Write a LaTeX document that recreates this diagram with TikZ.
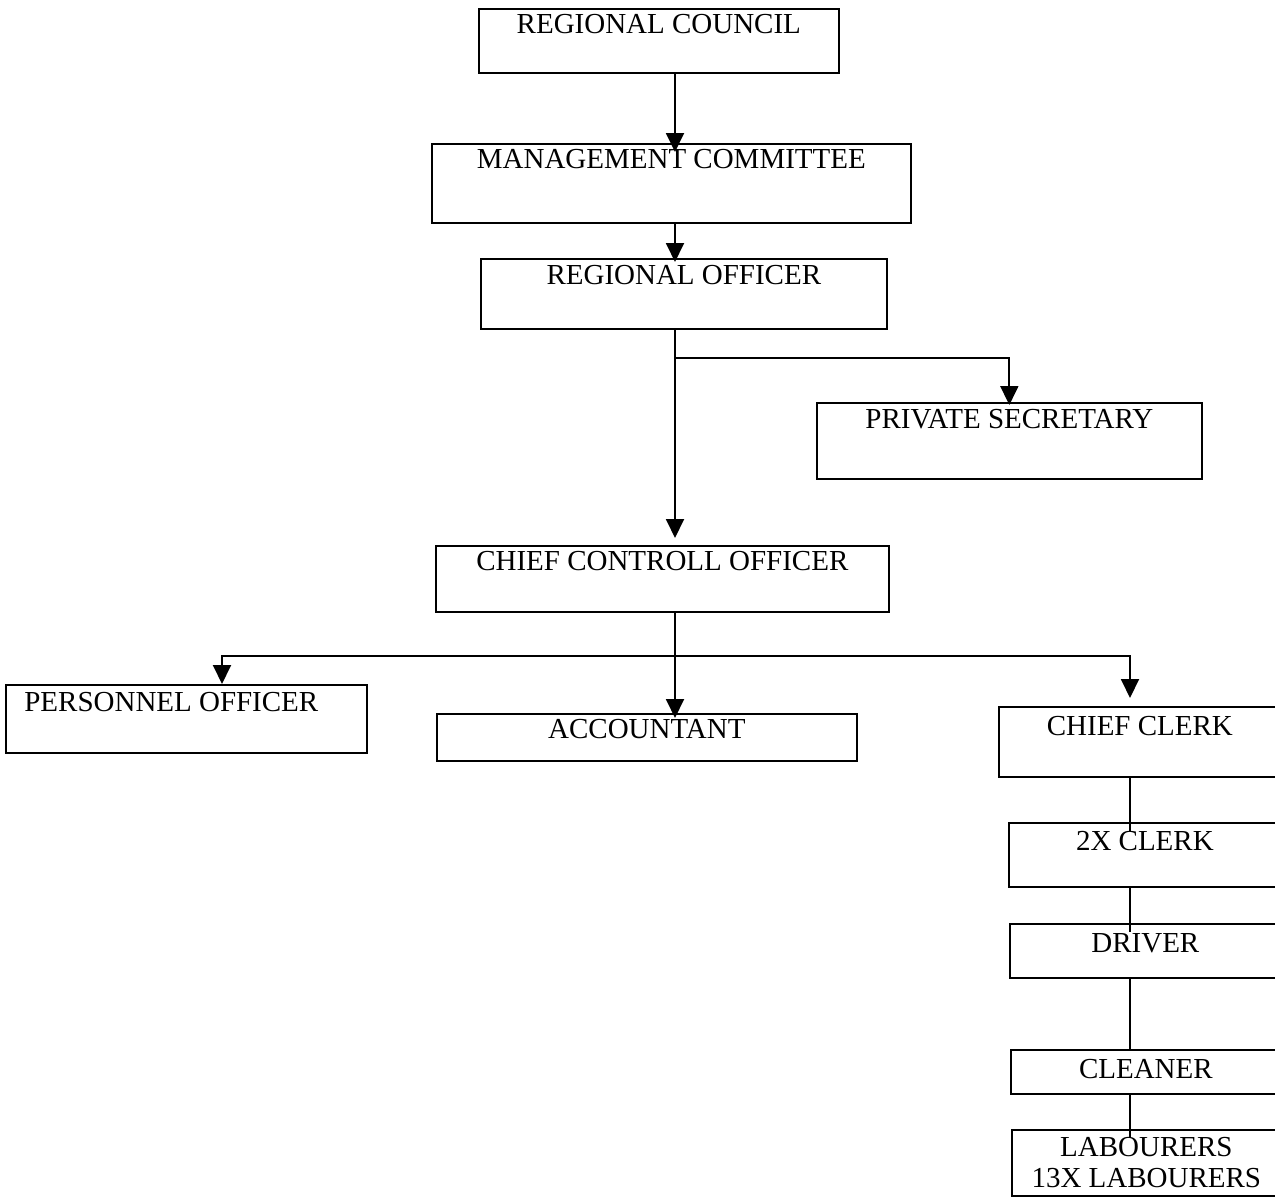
\documentclass[tikz,border=0pt]{standalone}
\usepackage{fontspec}
\setmainfont{Liberation Serif}
\usetikzlibrary{arrows.meta}
\begin{document}
\begin{tikzpicture}[x=0.02cm,y=-0.02cm,
  bx/.style={draw, line width=1pt, inner sep=0pt, anchor=north west,
    font=\fontsize{16.5}{17.5}\selectfont},
  conn/.style={line width=1.1pt},
  arr/.style={line width=1.1pt, -{Triangle[length=0.38cm,width=0.36cm]}}]
\useasboundingbox (0,0) rectangle (1275,1203);
\clip (0,0) rectangle (1275,1203);
\fill[white] (0,0) rectangle (1275,1203);
% boxes
\node[bx, minimum width=7.2cm, text height=0.5cm, text depth=0.78cm] (rc) at (478,8) {REGIONAL COUNCIL};
\node[bx, minimum width=9.58cm, text height=0.5cm, text depth=1.08cm] (mc) at (431,143) {MANAGEMENT COMMITTEE};
\node[bx, minimum width=8.12cm, text height=0.52cm, text depth=0.88cm] (ro) at (480,258) {REGIONAL OFFICER};
\node[bx, minimum width=7.7cm, text height=0.52cm, text depth=1.0cm] (ps) at (816,402) {PRIVATE SECRETARY};
\node[bx, minimum width=9.06cm, text height=0.5cm, text depth=0.82cm] (cco) at (435,545) {CHIEF CONTROLL OFFICER};
\node[bx, minimum width=7.22cm, text height=0.54cm, text depth=0.82cm] (po) at (5,684) {\hspace*{-0.6cm}PERSONNEL OFFICER};
\node[bx, minimum width=8.4cm, text height=0.5cm, text depth=0.44cm] (acc) at (436,713) {ACCOUNTANT};
\node[bx, minimum width=5.64cm, text height=0.58cm, text depth=0.82cm] (cc) at (998,706) {CHIEF CLERK};
\node[bx, minimum width=5.44cm, text height=0.56cm, text depth=0.72cm] (cl) at (1008,822) {2X CLERK};
\node[bx, minimum width=5.42cm, text height=0.58cm, text depth=0.5cm] (dr) at (1009,923) {DRIVER};
\node[bx, minimum width=5.4cm, text height=0.58cm, text depth=0.3cm] (cn) at (1010,1049) {CLEANER};
\node[bx, minimum width=5.38cm, minimum height=1.32cm, align=center] (lb) at (1011,1129) {LABOURERS\\13X LABOURERS};
% guide coordinates
\coordinate (spine) at (675,0);
\coordinate (b1) at (675,358);
\coordinate (b2) at (675,656);
\coordinate (b2l) at (222,656);
\coordinate (b2r) at (1130,656);
\coordinate (ch) at (1130,0);
% connectors
\draw[arr, shorten >=-0.18cm] (spine |- rc.south) -- (spine |- mc.north);
\draw[arr, shorten >=-0.08cm] (spine |- mc.south) -- (spine |- ro.north);
\draw[arr, shorten >=0.14cm] (spine |- ro.south) -- (spine |- cco.north);
\draw[arr, shorten >=-0.06cm] (b1) -| (ps.north);
\draw[arr, shorten >=-0.1cm] (spine |- cco.south) -- (spine |- acc.north);
\draw[arr] (b2) -- (b2l) -- (b2l |- po.north);
\draw[arr, shorten >=0.16cm] (b2) -- (b2r) -- (b2r |- cc.north);
\draw[conn, shorten >=-0.18cm] (ch |- cc.south) -- (ch |- cl.north);
\draw[conn, shorten >=-0.18cm] (ch |- cl.south) -- (ch |- dr.north);
\draw[conn] (ch |- dr.south) -- (ch |- cn.north);
\draw[conn, shorten >=-0.18cm] (ch |- cn.south) -- (ch |- lb.north);
\end{tikzpicture}
\end{document}
